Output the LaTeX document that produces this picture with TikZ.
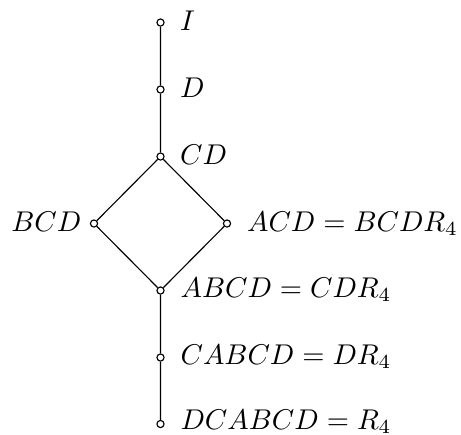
\documentclass[tikz,border=0pt]{standalone}
\begin{document}
\begin{tikzpicture}[x=0.35pt,y=-0.35pt,
  vtx/.style={circle,draw,fill=white,inner sep=0pt,minimum size=2.5pt,line width=0.4pt},
  edge/.style={line width=0.4pt},
  lblr/.style={anchor=base west,inner sep=0pt},
  lbll/.style={anchor=base east,inner sep=0pt}]
\useasboundingbox (0,0) rectangle (461,434);
\node[vtx] (I) at (160.5,22.5) {};
\node[vtx] (D) at (160.5,89.5) {};
\node[vtx] (CD) at (160.5,156.5) {};
\node[vtx] (BCD) at (94,223.5) {};
\node[vtx] (ACD) at (227,223.5) {};
\node[vtx] (ABCD) at (160.5,290.5) {};
\node[vtx] (CABCD) at (160.5,357.5) {};
\node[vtx] (DCABCD) at (160.5,424) {};
\draw[edge] (I) -- (D) -- (CD) -- (BCD) -- (ABCD) -- (CABCD) -- (DCABCD);
\draw[edge] (CD) -- (ACD) -- (ABCD);
\node[lblr] (lI) at (179.5,30.5) {$I$};
\node[lblr] (lD) at (179.5,97.5) {$D$};
\node[lblr] (lCD) at (179.5,164.5) {$CD$};
\node[lbll] (lBCD) at (82,231) {$BCD$};
\node[lblr] (lACD) at (246.5,231) {$ACD = BCDR_4$};
\node[lblr] (lABCD) at (180,297) {$ABCD = CDR_4$};
\node[lblr] (lCABCD) at (180,364) {$CABCD = DR_4$};
\node[lblr] (lDCABCD) at (180,429.5) {$DCABCD = R_4$};
\end{tikzpicture}
\end{document}
